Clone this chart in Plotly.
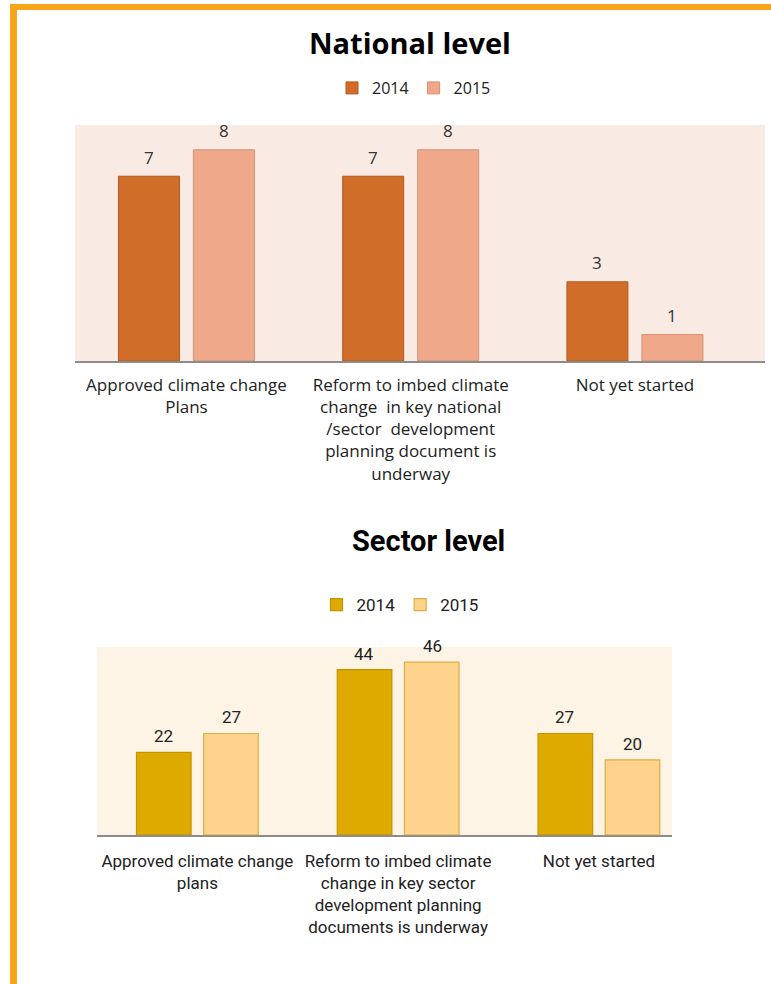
import plotly.graph_objects as go

W, H = 771, 984

# ---- data ----
nat_categories = ["Approved climate change<br>Plans",
                  "Reform to imbed climate<br>change  in key national<br>/sector  development<br>planning document is<br>underway",
                  "Not yet started"]
nat_2014 = [7, 7, 3]
nat_2015 = [8, 8, 1]

sec_categories = ["Approved climate change<br>plans",
                  "Reform to imbed climate<br>change in key sector<br>development planning<br>documents is underway",
                  "Not yet started"]
sec_2014 = [22, 44, 27]
sec_2015 = [27, 46, 20]

series_names = ["2014", "2015"]

# ---- style ----
TOP_FONT = "'Open Sans', Lato, sans-serif"
BOT_FONT = "Roboto, 'Liberation Sans Narrow', sans-serif"
nat_fill = ["#D06D28", "#F0A88B"]
nat_line = ["#B35A1E", "#D98F70"]
sec_fill = ["#DFAA00", "#FDD28A"]
sec_line = ["#C49300", "#DDAE45"]
ORANGE = "#F9A51B"


def px_x(p):
    return p / W


def px_y(p):
    return (H - p) / H


fig = go.Figure()

# national bars
for i, (vals, name) in enumerate(zip([nat_2014, nat_2015], series_names)):
    fig.add_trace(go.Bar(
        x=list(range(len(nat_categories))), y=vals, name=name,
        marker=dict(color=nat_fill[i], line=dict(color=nat_line[i], width=1)),
        xaxis="x", yaxis="y", legend="legend",
        offsetgroup=str(i),
    ))
# sector bars
for i, (vals, name) in enumerate(zip([sec_2014, sec_2015], series_names)):
    fig.add_trace(go.Bar(
        x=list(range(len(sec_categories))), y=vals, name=name,
        marker=dict(color=sec_fill[i], line=dict(color=sec_line[i], width=1.2)),
        xaxis="x2", yaxis="y2", legend="legend2",
        offsetgroup=str(i),
    ))

# value labels as annotations anchored on the data
annotations = []
nat_slot = 0.669 / 2
for i, vals in enumerate([nat_2014, nat_2015]):
    for j, v in enumerate(vals):
        annotations.append(dict(
            x=j + (i - 0.5) * nat_slot, y=v, xref="x", yref="y",
            text=str(v), showarrow=False, yanchor="middle", yshift=19,
            font=dict(family=TOP_FONT, size=17, color="#333333")))
sec_slot = 0.677 / 2
for i, vals in enumerate([sec_2014, sec_2015]):
    for j, v in enumerate(vals):
        annotations.append(dict(
            x=j + (i - 0.5) * sec_slot, y=v, xref="x2", yref="y2",
            text=str(v), showarrow=False, yanchor="middle", yshift=16,
            font=dict(family=BOT_FONT, size=17, color="#222222")))

# titles
annotations.append(dict(x=px_x(410), y=px_y(42), xref="paper", yref="paper",
                        text="<b>National level</b>", showarrow=False,
                        xanchor="center", yanchor="middle",
                        font=dict(family=TOP_FONT, size=29, color="#000000")))
annotations.append(dict(x=px_x(428), y=px_y(541), xref="paper", yref="paper",
                        text="<b>Sector level</b>", showarrow=False,
                        xanchor="center", yanchor="middle",
                        font=dict(family=BOT_FONT, size=29, color="#000000")))

shapes = [
    # plot backgrounds
    dict(type="rect", xref="paper", yref="paper",
         x0=px_x(75), x1=px_x(765), y0=px_y(361), y1=px_y(125),
         fillcolor="#FAEAE4", line=dict(width=0), layer="below"),
    dict(type="rect", xref="paper", yref="paper",
         x0=px_x(97), x1=px_x(672), y0=px_y(835), y1=px_y(647),
         fillcolor="#FDF4E6", line=dict(width=0), layer="below"),
    # orange frame
    dict(type="rect", xref="paper", yref="paper",
         x0=px_x(10), x1=1.0, y0=px_y(10), y1=px_y(4),
         fillcolor=ORANGE, line=dict(width=0)),
    dict(type="rect", xref="paper", yref="paper",
         x0=px_x(10), x1=px_x(17), y0=0, y1=px_y(4),
         fillcolor=ORANGE, line=dict(width=0)),
]

fig.update_layout(
    width=W, height=H,
    margin=dict(l=0, r=0, t=0, b=0),
    paper_bgcolor="white", plot_bgcolor="rgba(0,0,0,0)",
    barmode="group", bargap=0.331, bargroupgap=0.187,
    showlegend=True,
    xaxis=dict(domain=[px_x(75), px_x(765)], range=[-0.497, 2.58],
               tickmode="array", tickvals=[0, 1, 2], ticktext=nat_categories,
               showgrid=False, zeroline=False, showline=True,
               linecolor="#8C8C8C", linewidth=1.5, ticks="", tickangle=0,
               ticklabelstandoff=8,
               tickfont=dict(family=TOP_FONT, size=17, color="#222222"),
               anchor="y"),
    yaxis=dict(domain=[px_y(361), px_y(125)], range=[0, 8.94],
               visible=False, anchor="x"),
    xaxis2=dict(domain=[px_x(97), px_x(672)], range=[-0.5, 2.364],
                tickmode="array", tickvals=[0, 1, 2], ticktext=sec_categories,
                showgrid=False, zeroline=False, showline=True,
                linecolor="#8C8C8C", linewidth=1.5, ticks="", tickangle=0,
                ticklabelstandoff=10,
                tickfont=dict(family=BOT_FONT, size=17, color="#222222"),
                anchor="y2"),
    yaxis2=dict(domain=[px_y(835), px_y(647)], range=[0, 50],
                visible=False, anchor="x2"),
    legend=dict(orientation="h", x=px_x(414), y=px_y(88), xanchor="center",
                yanchor="middle", font=dict(family=TOP_FONT, size=16, color="#222222"),
                itemwidth=30, traceorder="normal", bgcolor="rgba(0,0,0,0)"),
    legend2=dict(orientation="h", x=px_x(400), y=px_y(605), xanchor="center",
                 yanchor="middle", font=dict(family=BOT_FONT, size=17, color="#222222"),
                 itemwidth=30, traceorder="normal", bgcolor="rgba(0,0,0,0)"),
    annotations=annotations,
    shapes=shapes,
)

fig.write_html("out.html",
               config={"displayModeBar": False},
               post_script="document.body.style.margin='0';"
                           "document.body.style.overflow='hidden';")
